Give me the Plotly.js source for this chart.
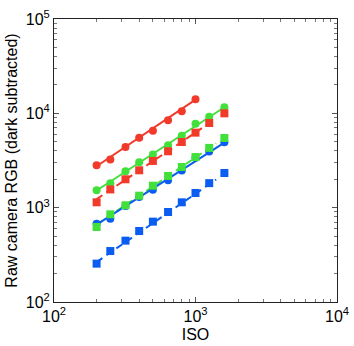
<!DOCTYPE html>
<html>
<head>
<meta charset="utf-8">
<script src="https://cdn.plot.ly/plotly-3.0.1.min.js"></script>
<style>
  html, body { margin: 0; padding: 0; background: #fff; }
  #chart { width: 354px; height: 346px; }
</style>
</head>
<body>
<div id="chart"></div>
<script>
// ISO settings (1/3 stop steps)
const iso = [200, 250, 320, 400, 500, 640, 800, 1000, 1250, 1600];

const redCircle = [2810, 3250, 4400, 5520, 6550, 8430, 10500, 14060];
const redSaturated = [16300, 16300];          // open circles at 1250, 1600
const redSquare = [1140, 1560, 2000, 2490, 3130, 3960, 4970, 6240, 7900, 10000];
const greenCircle = [1530, 1810, 2430, 3030, 3650, 4580, 5800, 7770, 9220, 11600];
const greenSquare = [624, 850, 1060, 1340, 1710, 2170, 2700, 3440, 4300, 5480];
const blueCircle = [676, 764, 1040, 1300, 1550, 1950, 2470, 3390, 3950, 4930];
const blueSquare = [255, 347, 447, 566, 711, 900, 1140, 1430, 1820, 2330];

// fitted lines, start and end points
const fitRedSolid = { x: [200, 1000], y: [2750, 14000] };
const fitRedDash = { x: [200, 1400], y: [1230, 8800] };
const fitGreenSolid = { x: [200, 1600], y: [1520, 11600] };
const fitGreenDash = { x: [200, 1400], y: [660, 4800] };
const fitBlueSolid = { x: [200, 1600], y: [660, 4900] };
const fitBlueDash = { x: [200, 1400], y: [265, 1990] };

const RED = '#f23a2b';
const GREEN = '#41e03a';
const BLUE = '#0b5cf0';
const DASH = '7px,5px';

function line(fit, color, dash) {
  return {
    x: fit.x, y: fit.y, mode: 'lines',
    line: { color: color, width: 2, dash: dash || 'solid' },
    hoverinfo: 'skip'
  };
}

function pts(xs, ys, color, symbol) {
  return {
    x: xs, y: ys, mode: 'markers',
    marker: { color: color, size: 8, symbol: symbol, line: { width: 0 } },
    hoverinfo: 'x+y'
  };
}

const traces = [
  line(fitGreenDash, GREEN, DASH),
  line(fitBlueSolid, BLUE),
  line(fitBlueDash, BLUE, DASH),
  pts(iso, blueCircle, BLUE, 'circle'),
  pts(iso, blueSquare, BLUE, 'square'),
  pts(iso, greenSquare, GREEN, 'square'),
  line(fitGreenSolid, GREEN),
  pts(iso, greenCircle, GREEN, 'circle'),
  line(fitRedDash, RED, DASH),
  pts(iso, redSquare, RED, 'square'),
  line(fitRedSolid, RED),
  pts(iso.slice(0, redCircle.length), redCircle, RED, 'circle'),
  {
    x: iso.slice(redCircle.length), y: redSaturated, mode: 'markers',
    marker: { color: 'rgba(0,0,0,0)', size: 8, symbol: 'circle-open', line: { color: RED, width: 1 } },
    hoverinfo: 'x+y'
  }
];

const font = { family: 'Liberation Sans, Arial, Helvetica, sans-serif', size: 16, color: '#000' };

const axisCommon = {
  type: 'log',
  showgrid: false,
  zeroline: false,
  showline: true,
  linecolor: '#222',
  linewidth: 1,
  mirror: 'ticks',
  ticks: 'inside',
  ticklen: 5,
  tickcolor: '#555',
  tickfont: font,
  minor: { dtick: 'D1', ticks: 'inside', ticklen: 3, tickcolor: '#777', showgrid: false }
};

const layout = {
  width: 354,
  height: 346,
  margin: { l: 54, r: 17, t: 19, b: 44 },
  paper_bgcolor: '#fff',
  plot_bgcolor: '#fff',
  showlegend: false,
  font: font,
  xaxis: Object.assign({}, axisCommon, {
    range: [2, 4],
    tickvals: [100, 1000, 10000],
    ticktext: ['10<sup>2</sup>', '10<sup>3</sup>', '10<sup>4</sup>'],
    title: { text: 'ISO', font: font, standoff: 4 }
  }),
  yaxis: Object.assign({}, axisCommon, {
    range: [2, 5],
    tickvals: [100, 1000, 10000, 100000],
    ticktext: ['10<sup>2</sup>', '10<sup>3</sup>', '10<sup>4</sup>', '10<sup>5</sup>'],
    title: { text: 'Raw camera RGB (dark subtracted)', font: font, standoff: 4 }
  })
};

Plotly.newPlot('chart', traces, layout, { displayModeBar: false, staticPlot: true });
</script>
</body>
</html>
